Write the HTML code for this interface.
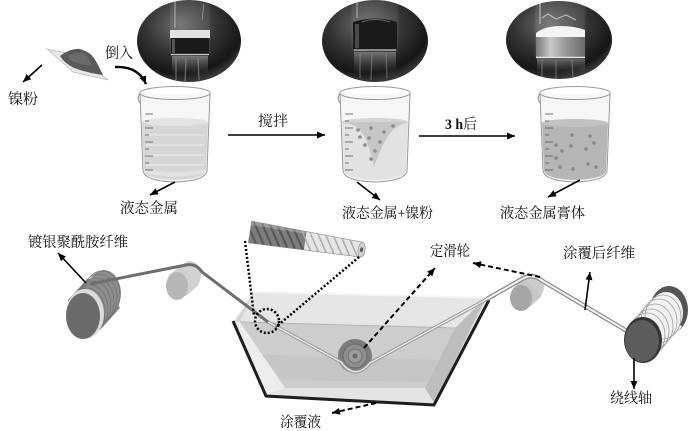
<!DOCTYPE html>
<html><head><meta charset="utf-8"><style>
html,body{margin:0;padding:0;background:#fff;}
svg{display:block;}
text{font-family:"Liberation Serif","Noto Serif CJK SC",serif;font-size:14.5px;fill:#111;}
</style></head><body>
<svg width="700" height="431" viewBox="0 0 700 431" xmlns="http://www.w3.org/2000/svg">
<defs>
 <radialGradient id="pg" cx="0.42" cy="0.3" r="0.7"><stop offset="0" stop-color="#6e6e6e"/><stop offset="0.5" stop-color="#333"/><stop offset="0.85" stop-color="#161616"/><stop offset="1" stop-color="#3a3a3a"/></radialGradient>
 <linearGradient id="refl" x1="0" y1="0" x2="0" y2="1"><stop offset="0" stop-color="#aaa"/><stop offset="1" stop-color="#222" stop-opacity="0"/></linearGradient>
 <linearGradient id="bodyg" x1="0" y1="0" x2="1" y2="0"><stop offset="0" stop-color="#7a7a7a"/><stop offset="0.3" stop-color="#c8c8c8"/><stop offset="0.6" stop-color="#999"/><stop offset="1" stop-color="#6a6a6a"/></linearGradient>
 <marker id="ah" markerWidth="9" markerHeight="8" refX="8" refY="3.5" orient="auto" markerUnits="userSpaceOnUse"><path d="M0,0 L8,3.5 L0,7 Z" fill="#000"/></marker>
 <clipPath id="c1"><ellipse cx="189" cy="41" rx="52" ry="41"/></clipPath>
 <clipPath id="c2"><ellipse cx="375" cy="41" rx="53" ry="41"/></clipPath>
 <clipPath id="c3"><ellipse cx="559" cy="40" rx="53" ry="39"/></clipPath>
 <clipPath id="fclip"><path d="M0,-11 L113,-7.5 L113,7.5 L0,11 Z"/></clipPath>
 <g id="beaker">
  <path d="M2,9 L5,86 Q7,96 37,97 Q67,96 69,86 L72,9" fill="#f7f7f7" stroke="#9a9a9a" stroke-width="1"/>
 </g>
 <g id="scale" stroke="#555" stroke-width="0.8" fill="none">
  <line x1="7" y1="29" x2="15" y2="29"/><line x1="7" y1="36" x2="11" y2="36"/>
  <line x1="7" y1="43" x2="15" y2="43"/><line x1="7" y1="50" x2="11" y2="50"/>
  <line x1="7" y1="57" x2="15" y2="57"/><line x1="7" y1="64" x2="11" y2="64"/>
  <line x1="7" y1="71" x2="15" y2="71"/><line x1="7" y1="78" x2="11" y2="78"/>
  <line x1="7" y1="85" x2="15" y2="85"/>
 </g>
</defs>
<rect width="700" height="431" fill="#fff"/>

<!-- Photo 1 -->
<ellipse cx="189" cy="41" rx="52" ry="41" fill="url(#pg)"/>
<g clip-path="url(#c1)">
 <rect x="172" y="56" width="36" height="24" fill="url(#refl)" opacity="0.6"/>
 <path d="M176,58 L176,80 M186,58 L185,82 M198,58 L199,80" stroke="#999" stroke-width="1.2" opacity="0.6"/>
 <rect x="170" y="-4" width="40" height="60" rx="3" fill="#fff" opacity="0.08" stroke="#b0b0b0" stroke-width="0.9"/>
 <line x1="175" y1="0" x2="175" y2="28" stroke="#bbb" stroke-width="0.9"/>
 <line x1="204" y1="4" x2="202" y2="20" stroke="#999" stroke-width="0.8"/>
 <rect x="170" y="30" width="40" height="8" fill="#e2e2e2"/>
 <rect x="171" y="38" width="38" height="16" rx="2" fill="#1a1a1a"/>
 <rect x="172" y="39" width="3" height="14" fill="#555"/>
 <line x1="171" y1="54.5" x2="209" y2="54.5" stroke="#ccc" stroke-width="1.2"/>
</g>

<!-- Photo 2 -->
<ellipse cx="375" cy="41" rx="53" ry="41" fill="url(#pg)"/>
<g clip-path="url(#c2)">
 <rect x="354" y="52" width="42" height="26" fill="url(#refl)" opacity="0.55"/>
 <path d="M360,54 L360,78 M372,54 L371,80 M386,54 L387,78" stroke="#999" stroke-width="1.2" opacity="0.5"/>
 <rect x="352" y="-4" width="46" height="56" rx="3" fill="#fff" opacity="0.08" stroke="#aaa" stroke-width="0.9"/>
 <line x1="357" y1="0" x2="357" y2="18" stroke="#bbb" stroke-width="0.9"/>
 <path d="M353,22 Q375,15 397,22 L397,49 Q375,53 353,49 Z" fill="#1a1a1a"/>
 <path d="M362,22 Q375,17 390,22" stroke="#666" stroke-width="1" fill="none"/>
 <rect x="355" y="24" width="4" height="24" fill="#4a4a4a"/>
 <line x1="354" y1="50" x2="396" y2="50" stroke="#c8c8c8" stroke-width="1.3"/>
</g>

<!-- Photo 3 -->
<ellipse cx="559" cy="40" rx="53" ry="39" fill="url(#pg)"/>
<g clip-path="url(#c3)">
 <rect x="537" y="59" width="48" height="20" fill="url(#refl)" opacity="0.5"/>
 <path d="M542,60 L542,78 M556,60 L556,80 M572,60 L573,78" stroke="#999" stroke-width="1.2" opacity="0.5"/>
 <rect x="535" y="-4" width="50" height="62" rx="3" fill="#fff" opacity="0.1" stroke="#b0b0b0" stroke-width="0.9"/>
 <line x1="540" y1="0" x2="540" y2="24" stroke="#ccc" stroke-width="1"/>
 <path d="M542,18 L548,14 L556,19 L566,15 L576,20" stroke="#bbb" stroke-width="1.2" fill="none"/>
 <path d="M536,33 Q545,26 560,26 Q575,26 585,30 L585,37 L536,37 Z" fill="#f4f4f4"/>
 <rect x="536" y="37" width="49" height="20" fill="url(#bodyg)"/>
 <line x1="536" y1="57.5" x2="585" y2="57.5" stroke="#e8e8e8" stroke-width="1.4"/>
</g>

<!-- Powder tray -->
<path d="M47,49 L76,55 L108,80 L73,72 Z" fill="#e8e8e8" stroke="#bdbdbd" stroke-width="0.8"/>
<path d="M60,56 Q70,48 80,49 Q90,52 94,58 Q99,66 103,75 Q88,73 74,68 Q64,63 60,56 Z" fill="#595959"/>
<path d="M68,56 Q76,51 84,53 Q90,59 92,66 Q80,65 70,60 Z" fill="#6e6e6e" opacity="0.8"/>

<!-- Beaker 1 -->
<g transform="translate(138,85)">
 <use href="#beaker"/>
 <path d="M4,37 L6,86 Q8,94 37,95 Q66,94 68,86 L70,37 Z" fill="#d6d6d6"/>
 <ellipse cx="37" cy="37" rx="33" ry="4" fill="#e3e3e3"/>
 <path d="M8,50 L66,50 M8,60 L66,60 M8,70 L66,70 M8,80 L66,80" stroke="#e6e6e6" stroke-width="1.5"/>
 <path d="M6,84 Q37,90 68,84 L67,88 Q37,95 7,88 Z" fill="#e2e2e2"/>
 <use href="#scale"/>
 <ellipse cx="37" cy="8" rx="35" ry="6.5" fill="none" stroke="#9a9a9a" stroke-width="1"/>
 <path d="M2,8 Q-2,14 3,19" fill="none" stroke="#999" stroke-width="1"/>
</g>

<!-- Beaker 2 -->
<g transform="translate(338,85)">
 <use href="#beaker"/>
 <path d="M4,37 L6,86 Q8,94 37,95 Q66,94 68,86 L70,37 Z" fill="#e2e2e2"/>
 <ellipse cx="37" cy="37" rx="33" ry="4" fill="#d4d4d4"/>
 <path d="M8,37 Q25,42 30,60 Q34,72 36,82 Q40,70 46,58 Q54,42 68,37 Z" fill="#c6c6c6"/>
 <g fill="#8c8c8c">
  <circle cx="20" cy="45" r="1.8"/><circle cx="33" cy="43" r="1.8"/><circle cx="46" cy="47" r="1.8"/>
  <circle cx="55" cy="41" r="1.8"/><circle cx="31" cy="53" r="1.8"/><circle cx="42" cy="57" r="1.8"/>
  <circle cx="27" cy="60" r="1.8"/><circle cx="37" cy="66" r="1.8"/><circle cx="33" cy="74" r="1.8"/>
  <circle cx="22" cy="52" r="1.8"/>
 </g>
 <use href="#scale"/>
 <ellipse cx="37" cy="8" rx="35" ry="6.5" fill="none" stroke="#9a9a9a" stroke-width="1"/>
 <path d="M2,8 Q-2,14 3,19" fill="none" stroke="#999" stroke-width="1"/>
</g>

<!-- Beaker 3 -->
<g transform="translate(538,85)">
 <use href="#beaker"/>
 <path d="M4,38 L6,86 Q8,94 37,95 Q66,94 68,86 L70,38 Z" fill="#b6b6b6"/>
 <ellipse cx="37" cy="38" rx="33" ry="4" fill="#c2c2c2"/>
 <g fill="#888">
  <circle cx="34" cy="50" r="1.8"/><circle cx="52" cy="51" r="1.8"/><circle cx="18" cy="60" r="1.8"/>
  <circle cx="33" cy="61" r="1.8"/><circle cx="48" cy="64" r="1.8"/><circle cx="56" cy="58" r="1.8"/>
  <circle cx="24" cy="66" r="1.8"/><circle cx="18" cy="73" r="1.8"/><circle cx="50" cy="79" r="1.8"/>
  <circle cx="35" cy="84" r="1.8"/><circle cx="58" cy="82" r="1.8"/><circle cx="22" cy="82" r="1.8"/>
 </g>
 <use href="#scale"/>
 <ellipse cx="37" cy="8" rx="35" ry="6.5" fill="none" stroke="#9a9a9a" stroke-width="1"/>
 <path d="M2,8 Q-2,14 3,19" fill="none" stroke="#999" stroke-width="1"/>
</g>

<!-- Top arrows -->
<g stroke="#000" stroke-width="1.6" fill="none">
 <line x1="42" y1="65" x2="23" y2="82" marker-end="url(#ah)"/>
 <path d="M115,67 Q138,66 146,84" stroke-width="2.4" marker-end="url(#ah)"/>
 <line x1="175" y1="182" x2="150" y2="195" marker-end="url(#ah)"/>
 <line x1="228" y1="135" x2="325" y2="135" marker-end="url(#ah)"/>
 <line x1="357" y1="182" x2="380" y2="200" marker-end="url(#ah)"/>
 <line x1="419" y1="136" x2="515" y2="136" marker-end="url(#ah)"/>
 <line x1="580" y1="180" x2="548" y2="197" marker-end="url(#ah)"/>
</g>

<!-- Trough -->
<path d="M253,292 L487,298 L434,404 L266,395 L234,321 Z" fill="#d4d4d4"/>
<path d="M253,293 L485,299 L455,328 L240,322 Z" fill="#e6e6e6"/>
<path d="M234,321 L240,322 L285,388 L266,395 Z" fill="#ededed"/>
<path d="M240,322 L455,328 L425,388 L285,388 Z" fill="#cdcdcd"/>
<path d="M262,355 L438,360 L428,382 L282,380 Z" fill="#c2c2c2" opacity="0.7"/>
<path d="M455,328 L485,299 L434,403 L425,388 Z" fill="#bdbdbd"/>
<path d="M285,388 L425,388 L434,403 L266,395 Z" fill="#e4e4e4"/>
<path d="M234,321 L253,292 L487,298" fill="none" stroke="#f4f4f4" stroke-width="2"/>
<line x1="240" y1="322" x2="455" y2="328" stroke="#b4b4b4" stroke-width="1"/>
<polyline points="233,321 266,396 434,405 489,300" fill="none" stroke="#1e1e1e" stroke-width="3"/>

<!-- Pulley -->
<circle cx="355" cy="356" r="17" fill="#7c7c7c"/>
<circle cx="355" cy="356" r="12" fill="#8e8e8e" stroke="#6a6a6a" stroke-width="1"/>
<circle cx="355" cy="356" r="7" fill="#9c9c9c" stroke="#707070" stroke-width="1"/>
<circle cx="355" cy="356" r="2.5" fill="#6a6a6a"/>

<!-- Fiber in trough -->
<path d="M268,322 L341,362 Q355,381 370,363 L487,299" fill="none" stroke="#9a9a9a" stroke-width="3.5"/>
<path d="M268,322 L341,362 Q355,381 370,363 L487,299" fill="none" stroke="#ececec" stroke-width="1.3"/>

<!-- Left spool -->
<ellipse cx="104" cy="293" rx="17" ry="23" fill="#8d8d8d"/>
<line x1="84" y1="315" x2="104" y2="293" stroke="#8d8d8d" stroke-width="44"/>
<g fill="none" stroke="#747474" stroke-width="0.8">
 <ellipse cx="87" cy="312" rx="18" ry="24"/><ellipse cx="90" cy="309" rx="18" ry="24"/>
 <ellipse cx="93" cy="305" rx="18" ry="24"/><ellipse cx="96" cy="302" rx="18" ry="24"/>
 <ellipse cx="99" cy="298" rx="18" ry="24"/><ellipse cx="102" cy="295" rx="18" ry="24"/>
</g>
<ellipse cx="85" cy="314" rx="19" ry="25" fill="#dcdcdc"/>
<ellipse cx="83" cy="316" rx="17" ry="23" fill="#6b6b6b"/>

<!-- Roller 1 -->
<ellipse cx="190" cy="275" rx="11" ry="14" fill="#d2d2d2"/>
<line x1="177" y1="286" x2="190" y2="275" stroke="#d0d0d0" stroke-width="27"/>
<ellipse cx="177" cy="286" rx="11" ry="14" fill="#b6b6b6"/>

<!-- Roller 2 -->
<ellipse cx="533" cy="287" rx="11" ry="13" fill="#cccccc"/>
<line x1="521" y1="298" x2="533" y2="287" stroke="#c6c6c6" stroke-width="25"/>
<ellipse cx="521" cy="298" rx="11" ry="13" fill="#a6a6a6"/>

<!-- Right spool -->
<ellipse cx="669" cy="310" rx="19" ry="24" fill="#555"/>
<line x1="643" y1="340" x2="666" y2="313" stroke="#f2f2f2" stroke-width="42"/>
<ellipse cx="666" cy="313" rx="17" ry="21" fill="#f2f2f2"/>
<g fill="none" stroke="#a0a0a0" stroke-width="0.8">
 <ellipse cx="647" cy="335" rx="18" ry="22"/><ellipse cx="651" cy="331" rx="18" ry="22"/>
 <ellipse cx="655" cy="326" rx="18" ry="22"/><ellipse cx="659" cy="321" rx="18" ry="22"/>
 <ellipse cx="663" cy="317" rx="18" ry="22"/>
</g>

<!-- Fibers outside -->
<path d="M90,284 L186,265 Q196,263 202,272 L268,322" fill="none" stroke="#6e6e6e" stroke-width="3"/>
<path d="M487,299 L522,279 Q532,273 541,280 L632,334" fill="none" stroke="#8a8a8a" stroke-width="4.5"/>
<path d="M487,299 L522,279 Q532,273 541,280 L632,334" fill="none" stroke="#f4f4f4" stroke-width="2"/>

<ellipse cx="643" cy="340" rx="19" ry="23" fill="#333"/>
<ellipse cx="642" cy="341" rx="17" ry="21" fill="#5c5c5c"/>

<!-- Magnified fiber -->
<g transform="translate(250,232) rotate(9)">
 <g clip-path="url(#fclip)">
  <rect x="0" y="-12" width="56" height="24" fill="#7c7c7c"/>
  <rect x="56" y="-12" width="58" height="24" fill="#e6e6e6"/>
  <g stroke="#555" stroke-width="2">
   <line x1="-6" y1="-11" x2="8" y2="11"/><line x1="2" y1="-11" x2="16" y2="11"/>
   <line x1="10" y1="-11" x2="24" y2="11"/><line x1="18" y1="-11" x2="32" y2="11"/>
   <line x1="26" y1="-11" x2="40" y2="11"/><line x1="34" y1="-11" x2="48" y2="11"/>
   <line x1="42" y1="-11" x2="56" y2="11"/>
  </g>
  <g stroke="#aaa" stroke-width="1.5">
   <line x1="50" y1="-11" x2="64" y2="11"/><line x1="58" y1="-11" x2="72" y2="11"/>
   <line x1="66" y1="-11" x2="80" y2="11"/><line x1="74" y1="-11" x2="88" y2="11"/>
   <line x1="82" y1="-11" x2="96" y2="11"/><line x1="90" y1="-11" x2="104" y2="11"/>
   <line x1="98" y1="-11" x2="112" y2="11"/>
  </g>
  <rect x="0" y="-12" width="114" height="5" fill="#fff" opacity="0.25"/>
 </g>
 <path d="M0,-11 L113,-7.5 L113,7.5 L0,11 Z" fill="none" stroke="#888" stroke-width="0.6"/>
 <ellipse cx="113" cy="0" rx="3.5" ry="7.5" fill="#d0d0d0" stroke="#888" stroke-width="0.6"/>
 <ellipse cx="113" cy="0" rx="1.5" ry="2.5" fill="#555"/>
</g>

<!-- Dotted zoom lines -->
<g fill="none" stroke="#000" stroke-width="2.5" stroke-dasharray="2,2">
 <line x1="245" y1="241" x2="254" y2="316"/>
 <line x1="359" y1="257" x2="276" y2="327"/>
 <circle cx="267" cy="321" r="12"/>
</g>

<!-- Dashed arrows -->
<g fill="none" stroke="#000" stroke-width="2" stroke-dasharray="5,3">
 <line x1="364" y1="348" x2="435" y2="268" marker-end="url(#ah)"/>
 <line x1="540" y1="277" x2="473" y2="263" marker-end="url(#ah)"/>
 <line x1="376" y1="403" x2="332" y2="413" marker-end="url(#ah)"/>
</g>

<!-- Solid arrows bottom -->
<g stroke="#000" stroke-width="1.6" fill="none">
 <line x1="86" y1="283" x2="58" y2="253" marker-end="url(#ah)"/>
 <line x1="585" y1="310" x2="590" y2="272" marker-end="url(#ah)"/>
 <line x1="634" y1="358" x2="634" y2="389" marker-end="url(#ah)"/>
</g>

<!-- Labels -->
<text x="105" y="58" textLength="28" lengthAdjust="spacingAndGlyphs">倒入</text>
<text x="8" y="104" textLength="30" lengthAdjust="spacingAndGlyphs">镍粉</text>
<text x="120" y="213" textLength="58" lengthAdjust="spacingAndGlyphs">液态金属</text>
<text x="258" y="126" textLength="30" lengthAdjust="spacingAndGlyphs">搅拌</text>
<text x="445" y="129" textLength="32" lengthAdjust="spacingAndGlyphs"><tspan font-weight="bold">3 h</tspan>后</text>
<text x="342" y="218" textLength="91" lengthAdjust="spacingAndGlyphs">液态金属+镍粉</text>
<text x="500" y="218" textLength="85" lengthAdjust="spacingAndGlyphs">液态金属膏体</text>
<text x="28" y="247" textLength="100" lengthAdjust="spacingAndGlyphs">镀银聚酰胺纤维</text>
<text x="430" y="256" textLength="40" lengthAdjust="spacingAndGlyphs">定滑轮</text>
<text x="563" y="258" textLength="72" lengthAdjust="spacingAndGlyphs">涂覆后纤维</text>
<text x="610" y="403" textLength="42" lengthAdjust="spacingAndGlyphs">绕线轴</text>
<text x="280" y="427" textLength="41" lengthAdjust="spacingAndGlyphs">涂覆液</text>
</svg>
</body></html>
